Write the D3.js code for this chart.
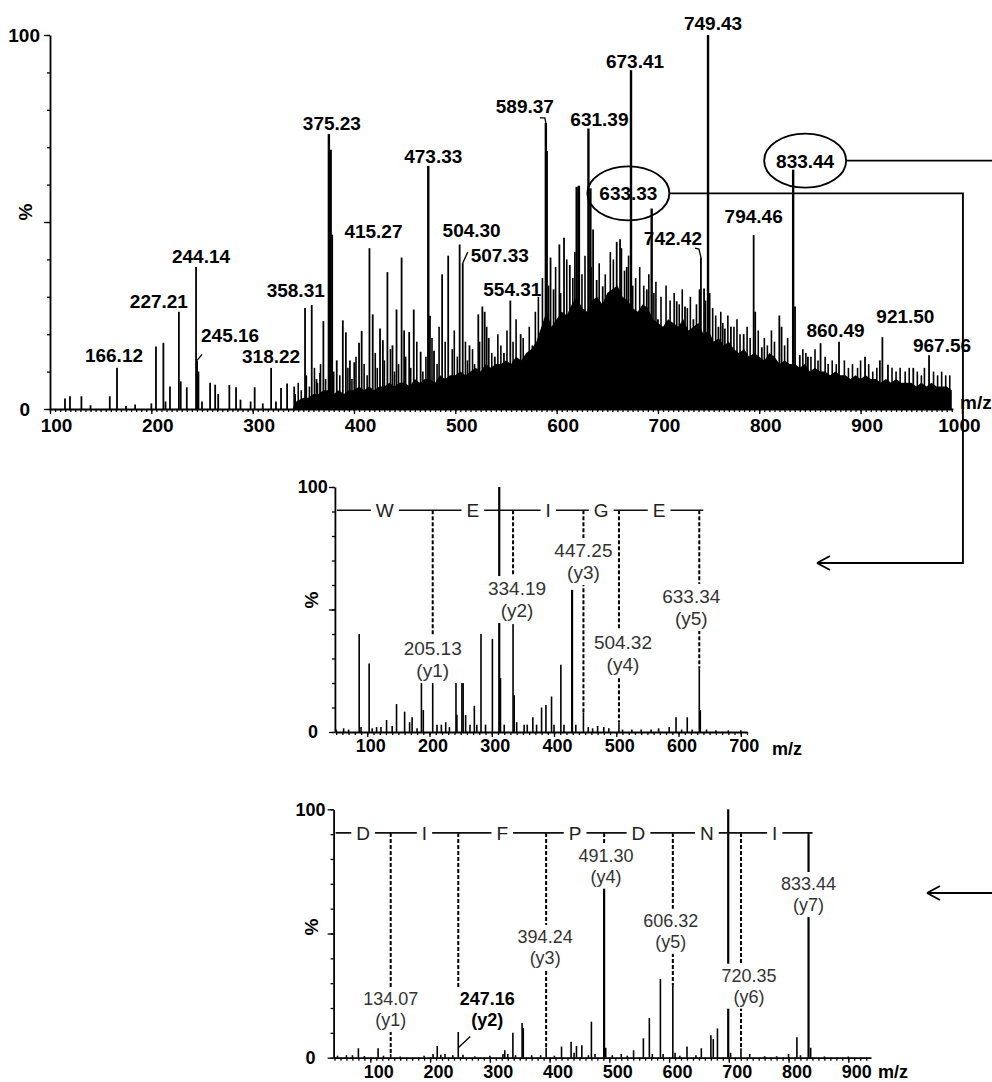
<!DOCTYPE html>
<html>
<head>
<meta charset="utf-8">
<script src="https://cdn.jsdelivr.net/npm/d3@7"></script>
<style>
  body { margin: 0; background: #fff; }
  svg { display: block; }
</style>
</head>
<body>
<div id="chart"></div>
<script>
// ---------- data ----------

// full MS scan: [m/z, % intensity]
var topPeaks = [
  [114.8,2.8],[119.7,3.4],[131,3.4],[140,1],[159,3.4],[166.12,11],[175,0.8],[184,1.2],[200,1.5],
  [204.6,16.7],[211.9,17.7],[214,2],[218.4,6],[227.21,26],[229,7.4],[235,5.8],[244.14,38],
  [245.16,13],[246.5,10],[250,2],[258,7],[263,6.5],[266,4],[277,6.4],[283.6,5.8],[288,2.5],
  [298,2],[302,5.8],[310,1.5],[318.22,11],[323,2],[328,5.6],[334,6.8],[341,6],[351.7,27],
  [358.31,27.8],[363,8],[366.5,9.6],[369.8,23.5],[375.23,73.5],[377,69.3],[378.5,46.6],[383,13],
  [389,23.7],[392,20.5],[396,13],[400.3,12.5],[405,17.7],[407.6,20.9],[415.27,43],[418.5,25.3],
  [425.7,21.5],[428.5,18.4],[433,36.6],[438,17],[442,26.6],[447,40.5],[449.5,21],[454.5,20.6],
  [459,26.6],[465.8,15.3],[473.33,65],[475,24.9],[479,15.6],[487,36],[493,41],[504.30,44],
  [507.33,39],[514,17],[522.7,25.3],[526.7,27.4],[529,26],[533,19],[539,14],[548,15],[554.31,29],
  [564.5,20],[570,13],[583.6,15.7],[589.37,76.5],[590.2,69],[594,40.5],[597,32],[602.7,44],
  [607.3,45.8],[613,38.5],[619.8,59.4],[622,59.7],[631.39,75],[633.33,59],[636,48],[639.5,34.5],
  [645.5,32.8],[651,28],[659.3,44.7],[662.6,45.4],[669.2,38],[673.41,90.6],[675,33],[689,32],
  [693.8,53.6],[700,24],[718.5,28.8],[726.7,27.4],[735,24],[742.42,40.6],[745.5,32.2],
  [749.43,100],[751,31],[759.7,22],[766,21.5],[772,22],[784.6,20],[794.46,46.5],[796,26],
  [802.5,16.5],[819.8,25],[822,22],[833.44,64],[835.3,27.4],[840,14.4],[848,14],[860.49,17.6],
  [878.7,18],[904.4,14],[919,13],[921.50,19.2],[927,11.8],[952,11],[967.56,14.4]
];

// the many small unlabelled ions packed above 340: [m/z, %]
var topCluster = [
  [342,4],[345,7],[348,5],[353,9],[356,6],[361,11],[364,7],[367,12],[372,8],[380,10],[386,9],
  [394,11],[398,8],[402,14],[410,12],[413,9],[421,15],[423,11],[430,13],[436,16],[440,10],
  [444,12],[451,14],[456,11],[462,18],[468,10],[471,14],[477,19],[482,12],[484,22],[490,18],
  [497,16],[499,21],[502,14],[510,18],[512,13],[517,16],[519,12],[524,18],[531,22],[536,15],
  [542,20],[545,17],[551,21],[557,18],[560,24],[567,19],[573,22],[576,17],[579,26],[582,30],
  [586,35],[592,33],[599,38],[604,31],[610,40],[616,35],[618,42],[625,36],[628,41],[634,38],
  [642,39],[648,36],[653,42],[656,40],[664,43],[667,37],[671,41],[678,35],[682,38],[686,33],
  [691,36],[696,31],[698,34],[703,30],[708,33],[712,29],[716,31],[721,28],[724,32],[729,27],
  [732,30],[738,28],[741,32],[747,29],[754,27],[757,25],[762,26],[764,23],[769,25],[775,22],
  [778,24],[781,20],[788,22],[791,19],[799,21],[805,19],[808,17],[812,21],[815,18],[825,17],
  [828,19],[843,16],[846,15],[851,14],[855,16],[858,13],[865,14],[868,12],[872,13],[876,12],
  [884,13],[888,11],[892,12],[897,11],[900,13],[908,12],[912,10],[916,11],[931,11],[935,10],
  [939,11],[944,10],[948,11],[956,10],[960,9],[963,11],[972,10],[976,9],[980,10],[984,9],[988,9]
];

// crowded low-level signal of the full scan, upper edge: [m/z, %]
var topNoise = [
  [340,0.5],[343,2],[350,3],[355,3],[360,4],[365,4],[370,5],[375,5],[380,4],[385,5],[390,4],
  [395,5],[400,5],[405,6],[410,5],[415,6],[420,5],[425,6],[430,6],[435,7],[440,6],[445,7],
  [450,7],[455,6],[460,8],[465,7],[470,8],[475,8],[480,7],[485,9],[490,8],[495,9],[500,9],
  [505,10],[510,9],[515,10],[520,11],[525,10],[530,12],[535,11],[540,12],[545,12],[550,13],
  [555,12],[560,14],[565,13],[570,15],[575,16],[580,18],[585,22],[590,26],[595,22],[600,24],
  [605,26],[610,25],[615,28],[620,30],[625,27],[630,26],[635,29],[640,30],[645,28],[650,31],
  [655,32],[660,33],[665,30],[670,29],[675,27],[680,26],[685,28],[690,27],[695,24],[700,23],
  [705,22],[710,24],[715,23],[720,22],[725,24],[730,21],[735,22],[740,23],[745,20],[750,21],
  [755,18],[760,19],[765,17],[770,18],[775,16],[780,15],[785,16],[790,14],[795,15],[800,14],
  [805,13],[810,15],[815,14],[820,12],[825,13],[830,12],[835,12],[840,11],[845,12],[850,10],
  [855,11],[860,10],[865,10],[870,9],[875,10],[880,9],[885,9],[890,8],[895,9],[900,8],[905,9],
  [910,8],[915,8],[920,7],[925,8],[930,7],[935,8],[940,7],[945,7],[950,7],[955,6],[960,7],
  [965,6],[970,7],[975,6],[980,6],[985,6],[990,5]
];

var topLabels = ["166.12","227.21","244.14","245.16","318.22","358.31","375.23","415.27",
  "473.33","504.30","507.33","554.31","589.37","631.39","673.41","749.43","633.33","742.42",
  "794.46","833.44","860.49","921.50","967.56"];
var topCircled = ["633.33","833.44"];
var topTicks = [100,200,300,400,500,600,700,800,900,1000];

// MS/MS of 633.33
var midPeaks = [
  [50,1],[62,1.5],[70,1],[87,40],[90,2],[103,28],[108,1.5],[115,2],[122,2],[131,4.9],[140,2.5],
  [147,11.4],[160,8.3],[168,4],[172,6],[180,1.5],[187,20],[190,9],[205.13,20],[212,3],[219,3],
  [226,4],[232,2],[242.5,21.6],[244,7],[252,38],[254,21.6],[258,7],[265,3],[272,10.7],[276,3],
  [282.7,40],[290,3],[301,38],[312,100],[314,22],[320,3],[334.19,43.4],[336,15],[340,4],[352,3],
  [357,3],[366,6],[372,3],[380,10],[387,11],[396,14.5],[400,3],[411,27.5],[416,3],[429,58],
  [435,3],[447.25,8],[455,2],[462,1.5],[470,2.5],[480,2],[488,1.5],[504.32,4],[510,1],[525,1],
  [540,1],[556,1],[568,1.5],[585,2],[596,6],[605,1],[614,6],[622,1],[633.34,26],[635,9],
  [645,1],[660,0.7],[680,0.7],[700,0.7]
];
var midIons = ["205.13","334.19","447.25","504.32","633.34"];
var midSeq = ["W","E","I","G","E"];
var midTicks = [100,200,300,400,500,600,700];

// MS/MS of 833.44
var botPeaks = [
  [45,0.8],[60,1],[70,1],[80,3.8],[90,0.7],[113,3.8],[122,0.8],[134.07,1.5],[150,0.5],[190,0.8],
  [205,1.5],[212,4.7],[218,1.2],[225,1.5],[238,1],[247.16,17],[255,1.2],[275,0.6],[300,0.8],
  [322,1.5],[325,3],[330,1.5],[338.6,10],[343,1],[354,14],[356,12],[370,1],[385,1],[394.24,4],
  [408,0.8],[420,4.5],[436,6.4],[441,2],[445,4.7],[454,5],[465,1],[470,14.5],[476,1.5],
  [491.30,68.8],[494,4],[505,1],[520,1.5],[530,0.8],[540.6,3],[557,7.8],[567,16],[572,1.5],
  [585.5,31.7],[590,1.5],[606.32,29],[610,2],[618,0.8],[630,4.5],[645,1],[654,3.8],[670,9],
  [674,7.5],[681,11.8],[699,100],[703,2],[720.35,3.8],[735,1.5],[760,0.6],[780,0.6],[800,1.5],
  [814,8.2],[820,1],[833.44,90],[837,4],[860,0.5],[900,0.5]
];
var botIons = ["134.07","247.16","394.24","491.30","606.32","720.35","833.44"];
var botSeq = ["D","I","F","P","D","N","I"];
var botTicks = [100,200,300,400,500,600,700,800,900];

// ---------- layout ----------
var FONT = "'Liberation Sans', Arial, Helvetica, sans-serif";
var svg = d3.select("#chart").append("svg")
  .attr("width", 992).attr("height", 1082)
  .style("font-family", FONT);

var xTop = d3.scaleLinear().domain([100, 991]).range([50, 952.8]);
var yTop = d3.scaleLinear().domain([0, 100]).range([409, 35]);
var xMid = d3.scaleLinear().domain([48, 710]).range([334.9, 747]);
var yMid = d3.scaleLinear().domain([0, 100]).range([732, 487]);
var xBot = d3.scaleLinear().domain([38.5, 938]).range([333.6, 871]);
var yBot = d3.scaleLinear().domain([0, 100]).range([1057.7, 809.3]);

// label nudges (px) for the full scan: [dx, dy from peak top]
var topLabelPos = {
  "166.12":[-3,-6], "227.21":[-20,-4], "244.14":[5,-4], "245.16":[33,-18], "318.22":[0,-5],
  "358.31":[-16,-8], "375.23":[3,-4], "415.27":[4,-10], "473.33":[5,-3], "504.30":[12,-7],
  "507.33":[37,-1], "554.31":[2,-5], "589.37":[-21,-10], "631.39":[11,-3], "673.41":[4,-2],
  "749.43":[5,-5], "633.33":[38,12], "742.42":[-28,-12], "794.46":[0,-12], "833.44":[12,-2],
  "860.49":[15,-6], "921.50":[23,-14], "967.56":[13,-3]
};
// ion label nudges: dx (px) and level of the number's baseline (% units)
var midIonPos = {"205.13":[0,31.4], "334.19":[4,55.9], "447.25":[0,71.4], "504.32":[4,33.9], "633.34":[-8,52.7]};
var botIonPos = {"134.07":[0,21.2], "247.16":[29,21.2], "394.24":[-1,46.2], "491.30":[2,78.9],
  "606.32":[-2,52.7], "720.35":[8,30.6], "833.44":[0,67.5]};

function lookup(peaks, mz) {
  var v = +mz;
  var hit = peaks.find(function (d) { return Math.abs(d[0] - v) < 0.005; });
  return hit ? hit[1] : 0;
}

function drawAxes(x, y, o) {
  var g = svg.append("g");
  var base = y(0);
  // minor x ticks
  var minor = g.append("g").attr("transform", "translate(0," + base + ")")
    .call(d3.axisBottom(x).tickValues(o.minor).tickSize(3).tickFormat("").tickSizeOuter(0));
  minor.select(".domain").attr("stroke-width", 1.8);
  // major x ticks with labels
  var major = g.append("g").attr("transform", "translate(0," + base + ")")
    .call(d3.axisBottom(x).tickValues(o.major).tickSize(5).tickSizeOuter(0).tickFormat(d3.format("d")));
  major.select(".domain").remove();
  major.attr("font-size", null).attr("font-family", null);
  major.selectAll("text")
    .attr("y", o.labelY).attr("dy", null)
    .attr("dx", function (d) { return d === 1000 ? -3 : o.labelDx; })
    .style("font-size", o.fs + "px").style("font-weight", "bold").attr("fill", "#000");
  // y ticks
  var yMinor = g.append("g").attr("transform", "translate(" + x.range()[0] + ",0)")
    .call(d3.axisLeft(y).tickValues(d3.range(0, 101, 10)).tickSize(3).tickFormat("").tickSizeOuter(0));
  yMinor.select(".domain").attr("stroke-width", 1.8);
  var yMajor = g.append("g").attr("transform", "translate(" + x.range()[0] + ",0)")
    .call(d3.axisLeft(y).tickValues([0, 50, 100]).tickSize(6).tickSizeOuter(0)
      .tickFormat(function (d) { return d === 50 ? "" : d; }));
  yMajor.select(".domain").remove();
  yMajor.attr("font-size", null).attr("font-family", null);
  yMajor.selectAll("text")
    .attr("x", function (d) { return d === 0 ? o.yLabelX - 10 : o.yLabelX; })
    .style("font-size", o.fs + "px").style("font-weight", "bold").attr("fill", "#000");
  g.selectAll(".tick line").attr("stroke-width", 1.3);
  // "%" title
  g.append("text")
    .attr("transform", "translate(" + o.pct[0] + "," + o.pct[1] + ") rotate(-90)")
    .attr("text-anchor", "middle").attr("dy", "0.35em")
    .style("font-size", "19px").style("font-weight", "bold").text("%");
  // m/z
  g.append("text").attr("x", o.mz[0]).attr("y", o.mz[1])
    .style("font-size", o.fs + "px").style("font-weight", "bold").text("m/z");
}

function drawPeaks(peaks, x, y, width) {
  svg.append("g").selectAll("line").data(peaks).join("line")
    .attr("x1", function (d) { return x(d[0]); })
    .attr("x2", function (d) { return x(d[0]); })
    .attr("y1", y(0))
    .attr("y2", function (d) { return y(d[1]); })
    .attr("stroke", "#000")
    .attr("stroke-width", function (d) { return d[1] > 50 ? width + 0.6 : width; });
}

// ---------- full scan ----------
svg.append("path").datum(topNoise)
  .attr("d", d3.area().x(function (d) { return xTop(d[0]); }).y0(yTop(0)).y1(function (d) { return yTop(d[1]); }))
  .attr("fill", "#000");
drawPeaks(topCluster, xTop, yTop, 1.6);
drawPeaks(topPeaks, xTop, yTop, 1.8);

drawAxes(xTop, yTop, {
  minor: d3.range(100, 991, 5), major: topTicks, labelY: 23, labelDx: 6, fs: 19,
  yLabelX: -10, pct: [25, 212], mz: [960, 409]
});

var ellipses = {};
var tl = svg.append("g").style("font-size", "19px").style("font-weight", "bold");
topLabels.forEach(function (lab) {
  var px = xTop(+lab), top = yTop(lookup(topPeaks, lab));
  var p = topLabelPos[lab];
  var tx = px + p[0], ty = top + p[1];
  tl.append("text").attr("x", tx).attr("y", ty).attr("text-anchor", "middle").text(lab);
  if (topCircled.indexOf(lab) >= 0) {
    ellipses[lab] = {cx: tx, cy: ty - 7, rx: 41, ry: 27};
    tl.append("ellipse").attr("cx", tx).attr("cy", ty - 7).attr("rx", 41).attr("ry", 27)
      .attr("fill", "none").attr("stroke", "#000").attr("stroke-width", 1.9);
  }
});
// small leader marks
var leaders = {
  "245.16": [[0, 0], [5, -6]],
  "507.33": [[0, 0], [5, -11]],
  "589.37": [[-6, -5], [-1, -5], [0, 0]],
  "742.42": [[-6, -9], [-2, -8], [0, 0]]
};
Object.keys(leaders).forEach(function (lab) {
  var px = xTop(+lab), top = yTop(lookup(topPeaks, lab));
  svg.append("path")
    .attr("d", d3.line()(leaders[lab].map(function (q) { return [px + q[0], top + q[1]]; })))
    .attr("fill", "none").attr("stroke", "#000").attr("stroke-width", 1.3);
});

// connectors from the circled precursors to the MS/MS panels
var e1 = ellipses["633.33"], e2 = ellipses["833.44"];
var rightX = xTop(1000) + 1;
var conn = svg.append("g").attr("fill", "none").attr("stroke", "#000").attr("stroke-width", 1.9);
conn.append("path").attr("d", d3.line()([[e1.cx + e1.rx, e1.cy], [rightX, e1.cy], [rightX, 563], [817, 563]]));
conn.append("path").attr("d", "M817,563 l13,-7 M817,563 l13,7");
conn.append("path").attr("d", d3.line()([[e2.cx + e2.rx, e2.cy], [992, e2.cy]]));
conn.append("path").attr("d", d3.line()([[992, 893], [927, 893]]));
conn.append("path").attr("d", "M927,893 l13,-7 M927,893 l13,7");

// ---------- MS/MS panels ----------
function drawMsms(peaks, ions, seq, x, y, ionPos, fs, boldIon) {
  drawPeaks(peaks, x, y, 1.6);
  var seqLevel = 90.5, sy = y(seqLevel);
  var g = svg.append("g");
  // dashed drop lines from the sequence ladder to each y ion
  ions.forEach(function (lab) {
    var v = lookup(peaks, lab);
    if (v < seqLevel) {
      g.append("line").attr("x1", x(+lab)).attr("x2", x(+lab))
        .attr("y1", sy).attr("y2", y(v))
        .attr("stroke", "#000").attr("stroke-width", 2).attr("stroke-dasharray", "4,2");
    }
  });
  // sequence ladder line
  var bounds = [x.range()[0] + 2].concat(ions.map(function (d) { return x(+d); }));
  g.append("line").attr("x1", bounds[0]).attr("x2", bounds[bounds.length - 1] + 4)
    .attr("y1", sy).attr("y2", sy).attr("stroke", "#111").attr("stroke-width", 1.6);
  seq.forEach(function (aa, i) {
    var cx = (bounds[i] + bounds[i + 1]) / 2;
    var t = g.append("text").attr("x", cx).attr("y", sy).attr("dy", "0.36em")
      .attr("text-anchor", "middle").style("font-size", "19px").attr("fill", "#222").text(aa);
    var b = t.node().getBBox();
    g.insert("rect", "text").attr("x", b.x - 5).attr("y", sy - 6).attr("width", b.width + 10)
      .attr("height", 12).attr("fill", "#fff");
  });
  // ion labels on white boxes
  ions.forEach(function (lab, i) {
    var p = ionPos[lab];
    var cx = x(+lab) + p[0], by = y(p[1]);
    var bold = lab === boldIon;
    var lg = g.append("g").style("font-size", fs + "px")
      .style("font-weight", bold ? "bold" : "normal").attr("fill", bold ? "#000" : "#333");
    var box = lg.append("rect").attr("fill", "#fff");
    lg.append("text").attr("x", cx).attr("y", by).attr("text-anchor", "middle").text(lab);
    lg.append("text").attr("x", cx).attr("y", by + fs + 3).attr("text-anchor", "middle")
      .text("(y" + (i + 1) + ")");
    var bb = lg.node().getBBox();
    box.attr("x", bb.x - 3).attr("y", bb.y - 2).attr("width", bb.width + 6).attr("height", bb.height + 4);
  });
}

drawMsms(midPeaks, midIons, midSeq, xMid, yMid, midIonPos, 19, null);
drawAxes(xMid, yMid, {
  minor: d3.range(50, 711, 10), major: midTicks, labelY: 20, labelDx: 3, fs: 18,
  yLabelX: -7, pct: [311, 600], mz: [772, 755]
});

drawMsms(botPeaks, botIons, botSeq, xBot, yBot, botIonPos, 18, "247.16");
drawAxes(xBot, yBot, {
  minor: d3.range(40, 931, 10), major: botTicks, labelY: 20, labelDx: 8, fs: 18,
  yLabelX: -8, pct: [311, 927], mz: [878, 1078]
});
// leader from the y2 peak to its label
svg.append("line")
  .attr("x1", xBot(247.16)).attr("y1", yBot(4)).attr("x2", xBot(247.16) + 12).attr("y2", yBot(8.5))
  .attr("stroke", "#000").attr("stroke-width", 1.3);
</script>
</body>
</html>
